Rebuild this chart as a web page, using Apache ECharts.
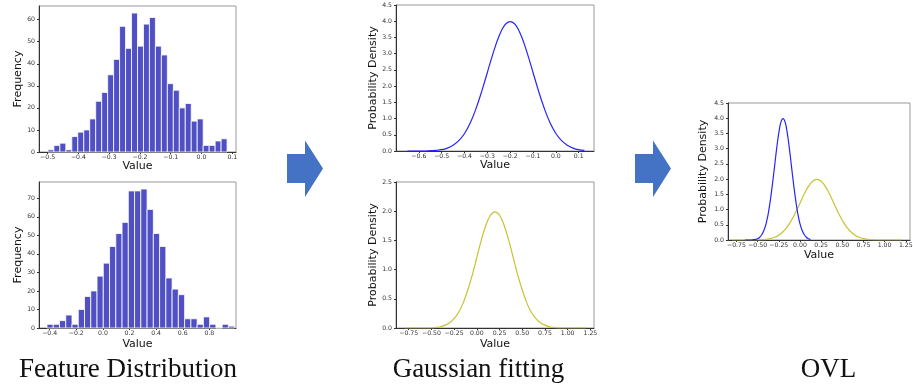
<!DOCTYPE html>
<html><head><meta charset="utf-8">
<script src="https://cdn.jsdelivr.net/npm/echarts@6/dist/echarts.min.js"></script>
<style>html,body{margin:0;padding:0;background:#fff}#c{width:913px;height:386px}</style>
</head><body><div id="c"></div>
<script>
// ---- data ----
var hist1Counts = [1,3,4,1,7,9,10,15,23,27,35,42,57,47,63,48,58,61,48,44,31,28,20,22,14,15,3,3,5,6];
var hist1BinStart = -0.499, hist1BinWidth = 0.0194;
var hist2Counts = [2,2,4,7,2,10,17,20,28,35,44,51,57,74,74,75,64,51,44,27,21,18,5,5,2,6,2,0,2,1];
var hist2BinStart = -0.42, hist2BinWidth = 0.047;

var blueX = [-0.65,-0.625,-0.6,-0.575,-0.55,-0.525,-0.5,-0.475,-0.45,-0.425,-0.4,-0.375,-0.35,-0.325,-0.3,-0.275,-0.25,-0.225,-0.2,-0.175,-0.15,-0.125,-0.1,-0.075,-0.05,-0.025,0,0.025,0.05,0.075,0.1,0.125];
var blueY = [0,0,0,0,0.01,0.02,0.04,0.09,0.18,0.32,0.54,0.86,1.30,1.83,2.42,3.01,3.52,3.87,3.99,3.87,3.52,3.01,2.42,1.83,1.30,0.86,0.54,0.32,0.18,0.09,0.04,0.02];

var yellowX = [-0.8,-0.75,-0.7,-0.65,-0.6,-0.55,-0.5,-0.45,-0.4,-0.35,-0.3,-0.25,-0.2,-0.15,-0.1,-0.05,0,0.05,0.1,0.15,0.2,0.25,0.3,0.35,0.4,0.45,0.5,0.55,0.6,0.65,0.7,0.75,0.8,0.85,0.9,0.95,1.0,1.05,1.1,1.15,1.2];
var yellowY = [0,0,0,0,0,0,0,0.01,0.02,0.05,0.09,0.16,0.27,0.43,0.65,0.91,1.21,1.51,1.76,1.93,1.99,1.93,1.76,1.51,1.21,0.91,0.65,0.43,0.27,0.16,0.09,0.05,0.02,0.01,0,0,0,0,0,0,0];

var hist1XTicks = [-0.5,-0.4,-0.3,-0.2,-0.1,0,0.1];
var hist1YTicks = [0,10,20,30,40,50,60];
var hist2XTicks = [-0.4,-0.2,0,0.2,0.4,0.6,0.8];
var hist2YTicks = [0,10,20,30,40,50,60,70];
var fit1XTicks = [-0.6,-0.5,-0.4,-0.3,-0.2,-0.1,0,0.1];
var dens45Ticks = [0,0.5,1,1.5,2,2.5,3,3.5,4,4.5];
var fit2XTicks = [-0.75,-0.5,-0.25,0,0.25,0.5,0.75,1,1.25];
var dens25Ticks = [0,0.5,1,1.5,2,2.5];
var captions = ['Feature Distribution','Gaussian fitting','OVL'];
var xName = 'Value', freqName = 'Frequency', densName = 'Probability Density';

// ---- helpers ----
function fmt(v, d){ var s = Number(v).toFixed(d); if (Number(s) === 0) s = s.replace('-', ''); return s.replace('-', '\u2212'); }
function bins(counts, start, w){ return counts.map(function(c,i){ return [start + i*w, start + (i+1)*w, c]; }); }
function pairs(xs, ys){ return xs.map(function(x,i){ return [x, ys[i]]; }); }
var tickFont = 'DejaVu Sans';
function xAx(gi, min, max, ticks, dec, gap){
  return {type:'value', gridIndex:gi, min:min, max:max, name:xName, nameLocation:'middle', nameGap:gap,
    nameTextStyle:{fontFamily:tickFont, fontSize:11, color:'#111'},
    axisLine:{show:true, onZero:false, lineStyle:{color:'#333', width:1}},
    axisTick:{show:true, length:2, customValues:ticks, lineStyle:{color:'#333'}},
    axisLabel:{customValues:ticks, formatter:function(v){return fmt(v,dec);}, fontSize:6.2, fontFamily:tickFont, color:'#333', margin:2},
    splitLine:{show:false}};
}
function yAx(gi, min, max, ticks, dec, name, gap){
  return {type:'value', gridIndex:gi, min:min, max:max, name:name, nameLocation:'middle', nameGap:gap,
    nameTextStyle:{fontFamily:tickFont, fontSize:11, color:'#111'},
    axisLine:{show:true, onZero:false, lineStyle:{color:'#333', width:1}},
    axisTick:{show:true, length:2, customValues:ticks, lineStyle:{color:'#333'}},
    axisLabel:{customValues:ticks, formatter:function(v){return fmt(v,dec);}, fontSize:6.2, fontFamily:tickFont, color:'#333', margin:4},
    splitLine:{show:false}};
}
function grid(l,t,w,h){ return {left:l, top:t, width:w, height:h, show:true, borderColor:'#999', borderWidth:1, backgroundColor:'#fff', containLabel:false, outerBoundsMode:'none'}; }
function histSeries(idx, data){
  return {type:'custom', xAxisIndex:idx, yAxisIndex:idx, data:data, encode:{x:[0,1], y:2},
    renderItem:function(params, api){
      var p0 = api.coord([api.value(0), api.value(2)]);
      var p1 = api.coord([api.value(1), 0]);
      return {type:'rect', shape:{x:p0[0], y:p0[1], width:p1[0]-p0[0], height:p1[1]-p0[1]},
        style:{fill:'#5050c4', stroke:'#ffffff', lineWidth:0.8}};
    }};
}
function lineSeries(idx, data, color){
  return {type:'line', xAxisIndex:idx, yAxisIndex:idx, data:data, showSymbol:false, smooth:0.4,
    lineStyle:{color:color, width:1.2}, itemStyle:{color:color}};
}
function arrow(x0, yc){
  return {type:'polygon', shape:{points:[[x0,yc-14.5],[x0+18,yc-14.5],[x0+18,yc-28],[x0+36,yc],[x0+18,yc+28.5],[x0+18,yc+14.5],[x0,yc+14.5]]},
    style:{fill:'#4472c4'}};
}
function caption(txt, x){
  return {type:'text', x:x, y:370, style:{text:txt, textAlign:'center', textVerticalAlign:'middle', font:'27px "Liberation Serif"', fill:'#111'}};
}

var option = {
  animation:false,
  backgroundColor:'#fff',
  grid:[ grid(39,6,197,146), grid(39,182,197,146), grid(396,5,198,146), grid(396,182,198,146), grid(728,103,182,137) ],
  xAxis:[
    xAx(0, -0.528, 0.112, hist1XTicks, 1, 8),
    xAx(1, -0.48, 1.0, hist2XTicks, 1, 11),
    xAx(2, -0.70, 0.167, fit1XTicks, 1, 9),
    xAx(3, -0.89, 1.29, fit2XTicks, 2, 11),
    xAx(4, -0.85, 1.30, fit2XTicks, 2, 10)
  ],
  yAxis:[
    yAx(0, 0, 66.2, hist1YTicks, 0, freqName, 14),
    yAx(1, 0, 78.8, hist2YTicks, 0, freqName, 14),
    yAx(2, 0, 4.5, dens45Ticks, 1, densName, 16),
    yAx(3, 0, 2.5, dens25Ticks, 1, densName, 16),
    yAx(4, 0, 4.5, dens45Ticks, 1, densName, 19)
  ],
  series:[
    histSeries(0, bins(hist1Counts, hist1BinStart, hist1BinWidth)),
    histSeries(1, bins(hist2Counts, hist2BinStart, hist2BinWidth)),
    lineSeries(2, pairs(blueX, blueY), '#2525ff'),
    lineSeries(3, pairs(yellowX, yellowY), '#c9c232'),
    lineSeries(4, pairs(yellowX, yellowY), '#c9c232'),
    lineSeries(4, pairs(blueX, blueY), '#2525ff')
  ],
  graphic:[ arrow(287,168.5), arrow(635,168.5), caption(captions[0],128), caption(captions[1],478.5), caption(captions[2],828.5) ]
};
var chart = echarts.init(document.getElementById('c'), null, {renderer:'canvas', width:913, height:386});
chart.setOption(option);
</script></body></html>
